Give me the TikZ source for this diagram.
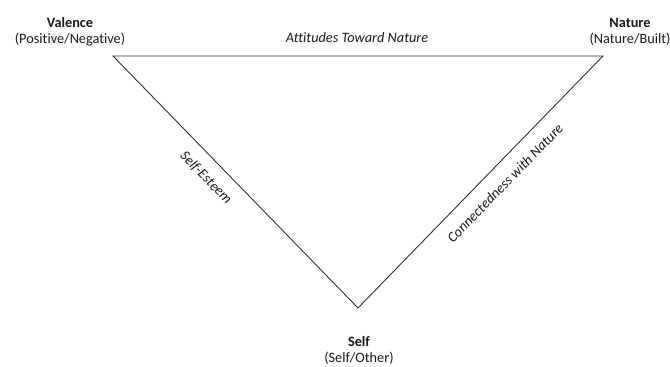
\documentclass[tikz,border=0pt]{standalone}
\usepackage{fontspec}
\setmainfont[Ligatures=NoCommon]{Carlito}
\begin{document}
\begin{tikzpicture}[x=1pt,y=1pt,
  every node/.style={inner sep=0pt, font=\fontsize{14.3}{17}\selectfont, text=black!90},
  edge/.style={draw=black!80, line width=0.9pt, line join=miter},
  title/.style={font=\fontsize{14.3}{17}\selectfont\bfseries, anchor=base},
  sub/.style={anchor=base},
  lab/.style={font=\fontsize{14.3}{17}\selectfont\itshape}]
\useasboundingbox (0,0) rectangle (670,367);
\coordinate (A) at (113,311);
\coordinate (B) at (603,311);
\coordinate (C) at (358,59);
\node[title] (val) at (70,339) {Valence};
\node[sub] (valsub) at (70,323) {(Positive/Negative)};
\node[title] (nat) at (630,339) {Nature};
\node[sub] (natsub) at (630,323) {(Nature/Built)};
\node[title] (self) at (359,20) {Self};
\node[sub] (selfsub) at (359,4) {(Self/Other)};
\draw[edge] (A) -- (B) -- (C) -- cycle;
\node[lab, anchor=base] (att) at (357,324) {Attitudes Toward Nature};
\node[lab, rotate=45.8] (con) at (505,184) {Connectedness with Nature};
\node[lab, rotate=-45.8] (se) at (206,189) {Self-Esteem};
\end{tikzpicture}
\end{document}
